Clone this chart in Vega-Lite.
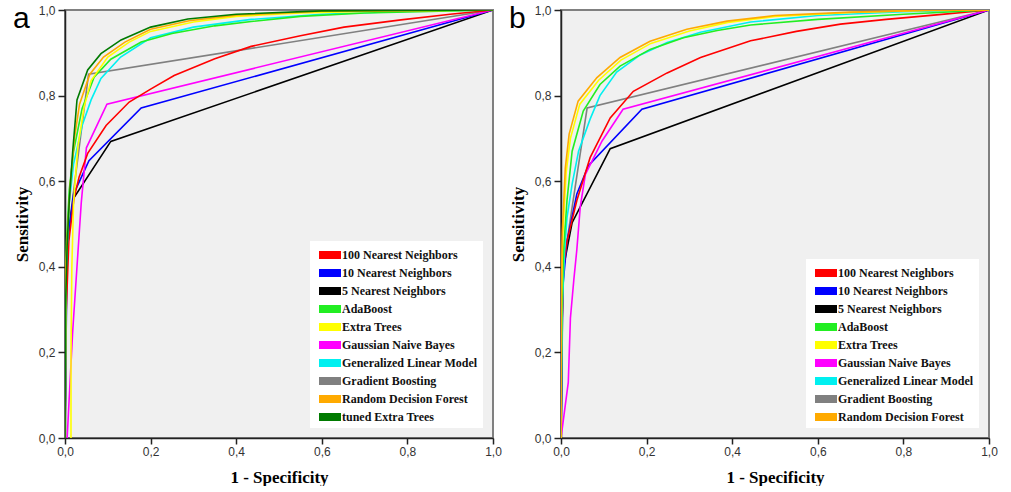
{
  "$schema": "https://vega.github.io/schema/vega-lite/v6.json",
  "background": "white",
  "padding": {"left": 12, "top": 3, "right": 0, "bottom": 0},
  "datasets": {
    "a": [
      {"m": "Gradient Boosting", "o": 1, "x": 0, "y": 0},
      {"m": "Gradient Boosting", "o": 2, "x": 0.004, "y": 0.45},
      {"m": "Gradient Boosting", "o": 3, "x": 0.055, "y": 0.85},
      {"m": "Gradient Boosting", "o": 4, "x": 1, "y": 1},
      {"m": "5 Nearest Neighbors", "o": 1, "x": 0, "y": 0},
      {"m": "5 Nearest Neighbors", "o": 2, "x": 0.003, "y": 0.45},
      {"m": "5 Nearest Neighbors", "o": 3, "x": 0.02, "y": 0.56},
      {"m": "5 Nearest Neighbors", "o": 4, "x": 0.107, "y": 0.693},
      {"m": "5 Nearest Neighbors", "o": 5, "x": 1, "y": 1},
      {"m": "10 Nearest Neighbors", "o": 1, "x": 0, "y": 0},
      {"m": "10 Nearest Neighbors", "o": 2, "x": 0.005, "y": 0.45},
      {"m": "10 Nearest Neighbors", "o": 3, "x": 0.02, "y": 0.57},
      {"m": "10 Nearest Neighbors", "o": 4, "x": 0.056, "y": 0.648},
      {"m": "10 Nearest Neighbors", "o": 5, "x": 0.178, "y": 0.771},
      {"m": "10 Nearest Neighbors", "o": 6, "x": 1, "y": 1},
      {"m": "Gaussian Naive Bayes", "o": 1, "x": 0.005, "y": 0},
      {"m": "Gaussian Naive Bayes", "o": 2, "x": 0.018, "y": 0.25},
      {"m": "Gaussian Naive Bayes", "o": 3, "x": 0.028, "y": 0.4},
      {"m": "Gaussian Naive Bayes", "o": 4, "x": 0.038, "y": 0.55},
      {"m": "Gaussian Naive Bayes", "o": 5, "x": 0.05, "y": 0.678},
      {"m": "Gaussian Naive Bayes", "o": 6, "x": 0.098, "y": 0.78},
      {"m": "Gaussian Naive Bayes", "o": 7, "x": 1, "y": 1},
      {"m": "100 Nearest Neighbors", "o": 1, "x": 0, "y": 0},
      {"m": "100 Nearest Neighbors", "o": 2, "x": 0.003, "y": 0.3},
      {"m": "100 Nearest Neighbors", "o": 3, "x": 0.009, "y": 0.46},
      {"m": "100 Nearest Neighbors", "o": 4, "x": 0.021, "y": 0.56},
      {"m": "100 Nearest Neighbors", "o": 5, "x": 0.033, "y": 0.61},
      {"m": "100 Nearest Neighbors", "o": 6, "x": 0.053, "y": 0.665},
      {"m": "100 Nearest Neighbors", "o": 7, "x": 0.096, "y": 0.73},
      {"m": "100 Nearest Neighbors", "o": 8, "x": 0.15, "y": 0.785},
      {"m": "100 Nearest Neighbors", "o": 9, "x": 0.2, "y": 0.815},
      {"m": "100 Nearest Neighbors", "o": 10, "x": 0.255, "y": 0.847},
      {"m": "100 Nearest Neighbors", "o": 11, "x": 0.35, "y": 0.886},
      {"m": "100 Nearest Neighbors", "o": 12, "x": 0.435, "y": 0.915},
      {"m": "100 Nearest Neighbors", "o": 13, "x": 0.55, "y": 0.94},
      {"m": "100 Nearest Neighbors", "o": 14, "x": 0.652, "y": 0.96},
      {"m": "100 Nearest Neighbors", "o": 15, "x": 0.785, "y": 0.977},
      {"m": "100 Nearest Neighbors", "o": 16, "x": 0.9, "y": 0.99},
      {"m": "100 Nearest Neighbors", "o": 17, "x": 1, "y": 1},
      {"m": "Generalized Linear Model", "o": 1, "x": 0, "y": 0},
      {"m": "Generalized Linear Model", "o": 2, "x": 0.003, "y": 0.4},
      {"m": "Generalized Linear Model", "o": 3, "x": 0.01, "y": 0.55},
      {"m": "Generalized Linear Model", "o": 4, "x": 0.02, "y": 0.64},
      {"m": "Generalized Linear Model", "o": 5, "x": 0.04, "y": 0.73},
      {"m": "Generalized Linear Model", "o": 6, "x": 0.061, "y": 0.79},
      {"m": "Generalized Linear Model", "o": 7, "x": 0.084, "y": 0.84},
      {"m": "Generalized Linear Model", "o": 8, "x": 0.13, "y": 0.89},
      {"m": "Generalized Linear Model", "o": 9, "x": 0.2, "y": 0.935},
      {"m": "Generalized Linear Model", "o": 10, "x": 0.3, "y": 0.96},
      {"m": "Generalized Linear Model", "o": 11, "x": 0.435, "y": 0.978},
      {"m": "Generalized Linear Model", "o": 12, "x": 0.6, "y": 0.99},
      {"m": "Generalized Linear Model", "o": 13, "x": 0.8, "y": 0.997},
      {"m": "Generalized Linear Model", "o": 14, "x": 1, "y": 1},
      {"m": "AdaBoost", "o": 1, "x": 0, "y": 0},
      {"m": "AdaBoost", "o": 2, "x": 0.003, "y": 0.45},
      {"m": "AdaBoost", "o": 3, "x": 0.01, "y": 0.58},
      {"m": "AdaBoost", "o": 4, "x": 0.02, "y": 0.67},
      {"m": "AdaBoost", "o": 5, "x": 0.04, "y": 0.77},
      {"m": "AdaBoost", "o": 6, "x": 0.068, "y": 0.843},
      {"m": "AdaBoost", "o": 7, "x": 0.107, "y": 0.885},
      {"m": "AdaBoost", "o": 8, "x": 0.178, "y": 0.925},
      {"m": "AdaBoost", "o": 9, "x": 0.25, "y": 0.945},
      {"m": "AdaBoost", "o": 10, "x": 0.35, "y": 0.963},
      {"m": "AdaBoost", "o": 11, "x": 0.435, "y": 0.973},
      {"m": "AdaBoost", "o": 12, "x": 0.55, "y": 0.985},
      {"m": "AdaBoost", "o": 13, "x": 0.7, "y": 0.993},
      {"m": "AdaBoost", "o": 14, "x": 1, "y": 1},
      {"m": "Extra Trees", "o": 1, "x": 0.014, "y": 0},
      {"m": "Extra Trees", "o": 2, "x": 0.014, "y": 0.2},
      {"m": "Extra Trees", "o": 3, "x": 0.016, "y": 0.4},
      {"m": "Extra Trees", "o": 4, "x": 0.02, "y": 0.55},
      {"m": "Extra Trees", "o": 5, "x": 0.03, "y": 0.68},
      {"m": "Extra Trees", "o": 6, "x": 0.045, "y": 0.775},
      {"m": "Extra Trees", "o": 7, "x": 0.061, "y": 0.835},
      {"m": "Extra Trees", "o": 8, "x": 0.1, "y": 0.89},
      {"m": "Extra Trees", "o": 9, "x": 0.15, "y": 0.925},
      {"m": "Extra Trees", "o": 10, "x": 0.2, "y": 0.95},
      {"m": "Extra Trees", "o": 11, "x": 0.3, "y": 0.972},
      {"m": "Extra Trees", "o": 12, "x": 0.4, "y": 0.985},
      {"m": "Extra Trees", "o": 13, "x": 0.55, "y": 0.993},
      {"m": "Extra Trees", "o": 14, "x": 0.75, "y": 0.998},
      {"m": "Extra Trees", "o": 15, "x": 1, "y": 1},
      {"m": "Random Decision Forest", "o": 1, "x": 0, "y": 0},
      {"m": "Random Decision Forest", "o": 2, "x": 0.002, "y": 0.4},
      {"m": "Random Decision Forest", "o": 3, "x": 0.007, "y": 0.5},
      {"m": "Random Decision Forest", "o": 4, "x": 0.013, "y": 0.6},
      {"m": "Random Decision Forest", "o": 5, "x": 0.022, "y": 0.7},
      {"m": "Random Decision Forest", "o": 6, "x": 0.034, "y": 0.78},
      {"m": "Random Decision Forest", "o": 7, "x": 0.058, "y": 0.85},
      {"m": "Random Decision Forest", "o": 8, "x": 0.09, "y": 0.89},
      {"m": "Random Decision Forest", "o": 9, "x": 0.14, "y": 0.925},
      {"m": "Random Decision Forest", "o": 10, "x": 0.2, "y": 0.955},
      {"m": "Random Decision Forest", "o": 11, "x": 0.29, "y": 0.975},
      {"m": "Random Decision Forest", "o": 12, "x": 0.4, "y": 0.988},
      {"m": "Random Decision Forest", "o": 13, "x": 0.6, "y": 0.997},
      {"m": "Random Decision Forest", "o": 14, "x": 1, "y": 1},
      {"m": "tuned Extra Trees", "o": 1, "x": 0, "y": 0},
      {"m": "tuned Extra Trees", "o": 2, "x": 0.001, "y": 0.3},
      {"m": "tuned Extra Trees", "o": 3, "x": 0.005, "y": 0.45},
      {"m": "tuned Extra Trees", "o": 4, "x": 0.01, "y": 0.555},
      {"m": "tuned Extra Trees", "o": 5, "x": 0.018, "y": 0.67},
      {"m": "tuned Extra Trees", "o": 6, "x": 0.028, "y": 0.79},
      {"m": "tuned Extra Trees", "o": 7, "x": 0.053, "y": 0.86},
      {"m": "tuned Extra Trees", "o": 8, "x": 0.084, "y": 0.898},
      {"m": "tuned Extra Trees", "o": 9, "x": 0.131, "y": 0.93},
      {"m": "tuned Extra Trees", "o": 10, "x": 0.2, "y": 0.96},
      {"m": "tuned Extra Trees", "o": 11, "x": 0.287, "y": 0.979},
      {"m": "tuned Extra Trees", "o": 12, "x": 0.4, "y": 0.99},
      {"m": "tuned Extra Trees", "o": 13, "x": 0.6, "y": 0.998},
      {"m": "tuned Extra Trees", "o": 14, "x": 1, "y": 1}
    ],
    "b": [
      {"m": "Gradient Boosting", "o": 1, "x": 0, "y": 0},
      {"m": "Gradient Boosting", "o": 2, "x": 0.005, "y": 0.4},
      {"m": "Gradient Boosting", "o": 3, "x": 0.061, "y": 0.771},
      {"m": "Gradient Boosting", "o": 4, "x": 1, "y": 1},
      {"m": "5 Nearest Neighbors", "o": 1, "x": 0, "y": 0},
      {"m": "5 Nearest Neighbors", "o": 2, "x": 0.003, "y": 0.3},
      {"m": "5 Nearest Neighbors", "o": 3, "x": 0.006, "y": 0.4},
      {"m": "5 Nearest Neighbors", "o": 4, "x": 0.026, "y": 0.503},
      {"m": "5 Nearest Neighbors", "o": 5, "x": 0.115, "y": 0.676},
      {"m": "5 Nearest Neighbors", "o": 6, "x": 1, "y": 1},
      {"m": "10 Nearest Neighbors", "o": 1, "x": 0, "y": 0},
      {"m": "10 Nearest Neighbors", "o": 2, "x": 0.004, "y": 0.35},
      {"m": "10 Nearest Neighbors", "o": 3, "x": 0.014, "y": 0.46},
      {"m": "10 Nearest Neighbors", "o": 4, "x": 0.037, "y": 0.57},
      {"m": "10 Nearest Neighbors", "o": 5, "x": 0.064, "y": 0.636},
      {"m": "10 Nearest Neighbors", "o": 6, "x": 0.189, "y": 0.768},
      {"m": "10 Nearest Neighbors", "o": 7, "x": 1, "y": 1},
      {"m": "Gaussian Naive Bayes", "o": 1, "x": 0, "y": 0},
      {"m": "Gaussian Naive Bayes", "o": 2, "x": 0.017, "y": 0.13},
      {"m": "Gaussian Naive Bayes", "o": 3, "x": 0.022, "y": 0.28},
      {"m": "Gaussian Naive Bayes", "o": 4, "x": 0.03, "y": 0.37},
      {"m": "Gaussian Naive Bayes", "o": 5, "x": 0.037, "y": 0.44},
      {"m": "Gaussian Naive Bayes", "o": 6, "x": 0.045, "y": 0.54},
      {"m": "Gaussian Naive Bayes", "o": 7, "x": 0.057, "y": 0.616},
      {"m": "Gaussian Naive Bayes", "o": 8, "x": 0.096, "y": 0.694},
      {"m": "Gaussian Naive Bayes", "o": 9, "x": 0.145, "y": 0.768},
      {"m": "Gaussian Naive Bayes", "o": 10, "x": 1, "y": 1},
      {"m": "100 Nearest Neighbors", "o": 1, "x": 0, "y": 0},
      {"m": "100 Nearest Neighbors", "o": 2, "x": 0.002, "y": 0.25},
      {"m": "100 Nearest Neighbors", "o": 3, "x": 0.006, "y": 0.4},
      {"m": "100 Nearest Neighbors", "o": 4, "x": 0.014, "y": 0.46},
      {"m": "100 Nearest Neighbors", "o": 5, "x": 0.037, "y": 0.555},
      {"m": "100 Nearest Neighbors", "o": 6, "x": 0.068, "y": 0.655},
      {"m": "100 Nearest Neighbors", "o": 7, "x": 0.115, "y": 0.748},
      {"m": "100 Nearest Neighbors", "o": 8, "x": 0.169, "y": 0.81},
      {"m": "100 Nearest Neighbors", "o": 9, "x": 0.248, "y": 0.853},
      {"m": "100 Nearest Neighbors", "o": 10, "x": 0.326, "y": 0.889},
      {"m": "100 Nearest Neighbors", "o": 11, "x": 0.443, "y": 0.928},
      {"m": "100 Nearest Neighbors", "o": 12, "x": 0.55, "y": 0.95},
      {"m": "100 Nearest Neighbors", "o": 13, "x": 0.653, "y": 0.967},
      {"m": "100 Nearest Neighbors", "o": 14, "x": 0.76, "y": 0.978},
      {"m": "100 Nearest Neighbors", "o": 15, "x": 0.871, "y": 0.988},
      {"m": "100 Nearest Neighbors", "o": 16, "x": 1, "y": 1},
      {"m": "Generalized Linear Model", "o": 1, "x": 0, "y": 0},
      {"m": "Generalized Linear Model", "o": 2, "x": 0.003, "y": 0.3},
      {"m": "Generalized Linear Model", "o": 3, "x": 0.008, "y": 0.43},
      {"m": "Generalized Linear Model", "o": 4, "x": 0.014, "y": 0.515},
      {"m": "Generalized Linear Model", "o": 5, "x": 0.026, "y": 0.593},
      {"m": "Generalized Linear Model", "o": 6, "x": 0.041, "y": 0.67},
      {"m": "Generalized Linear Model", "o": 7, "x": 0.068, "y": 0.745},
      {"m": "Generalized Linear Model", "o": 8, "x": 0.091, "y": 0.8},
      {"m": "Generalized Linear Model", "o": 9, "x": 0.13, "y": 0.855},
      {"m": "Generalized Linear Model", "o": 10, "x": 0.185, "y": 0.895},
      {"m": "Generalized Linear Model", "o": 11, "x": 0.248, "y": 0.924},
      {"m": "Generalized Linear Model", "o": 12, "x": 0.326, "y": 0.948},
      {"m": "Generalized Linear Model", "o": 13, "x": 0.443, "y": 0.972},
      {"m": "Generalized Linear Model", "o": 14, "x": 0.6, "y": 0.987},
      {"m": "Generalized Linear Model", "o": 15, "x": 0.8, "y": 0.996},
      {"m": "Generalized Linear Model", "o": 16, "x": 1, "y": 1},
      {"m": "AdaBoost", "o": 1, "x": 0, "y": 0},
      {"m": "AdaBoost", "o": 2, "x": 0.002, "y": 0.3},
      {"m": "AdaBoost", "o": 3, "x": 0.006, "y": 0.44},
      {"m": "AdaBoost", "o": 4, "x": 0.014, "y": 0.555},
      {"m": "AdaBoost", "o": 5, "x": 0.026, "y": 0.67},
      {"m": "AdaBoost", "o": 6, "x": 0.052, "y": 0.764},
      {"m": "AdaBoost", "o": 7, "x": 0.091, "y": 0.826},
      {"m": "AdaBoost", "o": 8, "x": 0.138, "y": 0.869},
      {"m": "AdaBoost", "o": 9, "x": 0.208, "y": 0.908},
      {"m": "AdaBoost", "o": 10, "x": 0.286, "y": 0.935},
      {"m": "AdaBoost", "o": 11, "x": 0.365, "y": 0.952},
      {"m": "AdaBoost", "o": 12, "x": 0.443, "y": 0.965},
      {"m": "AdaBoost", "o": 13, "x": 0.6, "y": 0.978},
      {"m": "AdaBoost", "o": 14, "x": 0.8, "y": 0.99},
      {"m": "AdaBoost", "o": 15, "x": 1, "y": 1},
      {"m": "Extra Trees", "o": 1, "x": 0, "y": 0},
      {"m": "Extra Trees", "o": 2, "x": 0.001, "y": 0.33},
      {"m": "Extra Trees", "o": 3, "x": 0.004, "y": 0.47},
      {"m": "Extra Trees", "o": 4, "x": 0.012, "y": 0.62},
      {"m": "Extra Trees", "o": 5, "x": 0.022, "y": 0.7},
      {"m": "Extra Trees", "o": 6, "x": 0.044, "y": 0.78},
      {"m": "Extra Trees", "o": 7, "x": 0.088, "y": 0.836},
      {"m": "Extra Trees", "o": 8, "x": 0.14, "y": 0.883},
      {"m": "Extra Trees", "o": 9, "x": 0.21, "y": 0.922},
      {"m": "Extra Trees", "o": 10, "x": 0.3, "y": 0.951},
      {"m": "Extra Trees", "o": 11, "x": 0.39, "y": 0.971},
      {"m": "Extra Trees", "o": 12, "x": 0.5, "y": 0.985},
      {"m": "Extra Trees", "o": 13, "x": 0.68, "y": 0.994},
      {"m": "Extra Trees", "o": 14, "x": 0.85, "y": 0.999},
      {"m": "Extra Trees", "o": 15, "x": 1, "y": 1},
      {"m": "Random Decision Forest", "o": 1, "x": 0, "y": 0},
      {"m": "Random Decision Forest", "o": 2, "x": 0.001, "y": 0.35},
      {"m": "Random Decision Forest", "o": 3, "x": 0.003, "y": 0.48},
      {"m": "Random Decision Forest", "o": 4, "x": 0.01, "y": 0.63},
      {"m": "Random Decision Forest", "o": 5, "x": 0.019, "y": 0.71},
      {"m": "Random Decision Forest", "o": 6, "x": 0.04, "y": 0.787},
      {"m": "Random Decision Forest", "o": 7, "x": 0.084, "y": 0.842},
      {"m": "Random Decision Forest", "o": 8, "x": 0.138, "y": 0.889},
      {"m": "Random Decision Forest", "o": 9, "x": 0.208, "y": 0.927},
      {"m": "Random Decision Forest", "o": 10, "x": 0.294, "y": 0.955},
      {"m": "Random Decision Forest", "o": 11, "x": 0.388, "y": 0.974},
      {"m": "Random Decision Forest", "o": 12, "x": 0.5, "y": 0.987},
      {"m": "Random Decision Forest", "o": 13, "x": 0.677, "y": 0.995},
      {"m": "Random Decision Forest", "o": 14, "x": 0.85, "y": 0.999},
      {"m": "Random Decision Forest", "o": 15, "x": 1, "y": 1}
    ]
  },
  "hconcat": [
    {
      "width": 428,
      "height": 428,
      "title": {"text": "a", "anchor": "start", "frame": "group", "fontSize": 30, "font": "Liberation Sans", "fontWeight": "normal", "color": "#000", "dx": -52, "dy": 30, "offset": 0},
      "data": {"name": "a"},
      "mark": {"type": "line", "strokeWidth": 1.6, "clip": true},
      "encoding": {
        "x": {"field": "x", "type": "quantitative", "scale": {"domain": [0, 1]}, "title": "1 - Specificity", "axis": {"values": [0, 0.2, 0.4, 0.6, 0.8, 1]}},
        "y": {"field": "y", "type": "quantitative", "scale": {"domain": [0, 1]}, "title": "Sensitivity", "axis": {"values": [0, 0.2, 0.4, 0.6, 0.8, 1]}},
        "order": {"field": "o", "type": "quantitative"},
        "color": {
          "field": "m", "type": "nominal",
          "scale": {
            "domain": ["100 Nearest Neighbors", "10 Nearest Neighbors", "5 Nearest Neighbors", "AdaBoost", "Extra Trees", "Gaussian Naive Bayes", "Generalized Linear Model", "Gradient Boosting", "Random Decision Forest", "tuned Extra Trees"],
            "range": ["#ff0000", "#0000ff", "#000000", "#22ee22", "#ffff00", "#ff00ff", "#00f0f0", "#808080", "#ffaa00", "#007a00"]
          },
          "legend": {"title": null, "orient": "bottom-right", "offset": 10, "encode": {"symbols": {"update": {"strokeJoin": {"value": "round"}, "strokeCap": {"value": "butt"}}}}}
        }
      }
    },
    {
      "width": 428,
      "height": 428,
      "title": {"text": "b", "anchor": "start", "frame": "group", "fontSize": 30, "font": "Liberation Sans", "fontWeight": "normal", "color": "#000", "dx": -52, "dy": 30, "offset": 0},
      "data": {"name": "b"},
      "mark": {"type": "line", "strokeWidth": 1.6, "clip": true},
      "encoding": {
        "x": {"field": "x", "type": "quantitative", "scale": {"domain": [0, 1]}, "title": "1 - Specificity", "axis": {"values": [0, 0.2, 0.4, 0.6, 0.8, 1]}},
        "y": {"field": "y", "type": "quantitative", "scale": {"domain": [0, 1]}, "title": "Sensitivity", "axis": {"values": [0, 0.2, 0.4, 0.6, 0.8, 1]}},
        "order": {"field": "o", "type": "quantitative"},
        "color": {
          "field": "m", "type": "nominal",
          "scale": {
            "domain": ["100 Nearest Neighbors", "10 Nearest Neighbors", "5 Nearest Neighbors", "AdaBoost", "Extra Trees", "Gaussian Naive Bayes", "Generalized Linear Model", "Gradient Boosting", "Random Decision Forest"],
            "range": ["#ff0000", "#0000ff", "#000000", "#22ee22", "#ffff00", "#ff00ff", "#00f0f0", "#808080", "#ffaa00"]
          },
          "legend": {"title": null, "orient": "bottom-right", "offset": 10, "encode": {"symbols": {"update": {"strokeJoin": {"value": "round"}, "strokeCap": {"value": "butt"}}}}}
        }
      }
    }
  ],
  "spacing": 5,
  "resolve": {"scale": {"color": "independent", "x": "independent", "y": "independent"}, "legend": {"color": "independent"}},
  "config": {
    "view": {"fill": "#f0f0f0", "stroke": "#808080", "strokeWidth": 2},
    "axis": {
      "grid": false,
      "labelExpr": "replace(format(datum.value, '.1f'), '.', ',')",
      "labelFont": "Liberation Sans",
      "labelFontSize": 12,
      "labelColor": "#333",
      "labelFlush": false,
      "labelOverlap": false,
      "labelPadding": 2,
      "domainColor": "#222",
      "domainWidth": 1.5,
      "tickColor": "#222",
      "tickWidth": 1.5,
      "tickSize": 6,
      "titleFont": "Liberation Serif",
      "titleFontWeight": "bold",
      "titleFontSize": 17,
      "titleColor": "#000"
    },
    "axisX": {"titlePadding": 12},
    "axisY": {"titlePadding": 7, "tickSize": 7, "labelPadding": 3},
    "legend": {
      "fillColor": "white",
      "padding": 5,
      "symbolType": "M-1,0H3.4",
      "symbolSize": 100,
      "symbolStrokeWidth": 8,
      "symbolOpacity": 1,
      "labelFont": "Liberation Serif",
      "labelFontWeight": "bold",
      "labelFontSize": 12,
      "labelColor": "#111",
      "labelOffset": 9,
      "rowPadding": 3,
      "labelLimit": 300
    }
  }
}
